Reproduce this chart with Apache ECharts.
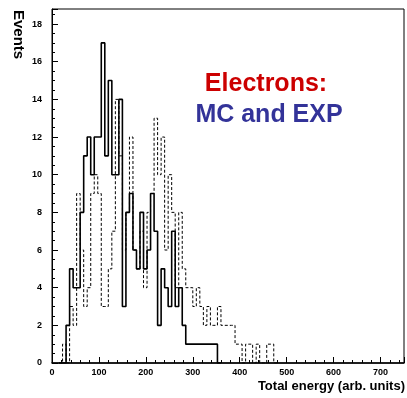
<!DOCTYPE html>
<html><head><meta charset="utf-8">
<script src="https://cdn.jsdelivr.net/npm/echarts@6/dist/echarts.min.js"></script>
<style>html,body{margin:0;padding:0;background:#fff}#c{width:407px;height:398px}</style>
</head><body><div id="c"></div>
<script>
// Histogram bins: lower edge of first bin and bin width (arb. units)
const FIRST_EDGE = 15;
const BIN_WIDTH = 7.5;
// Solid histogram counts per bin
const solidCounts = [0,0,2,5,4,4,8,11,12,10,12,12,17,11,15,10,10,14,3,8,9,6,5,8,5,6,9,7,2,5,4,3,7,3,4,2,1,1,1,1,1,1,1,1,1,0];
// Dashed histogram counts per bin
const dashedCounts = [0,1,0,3,2,9,6,3,4,9,10,9,3,3,5,7,14,11,6,8,12,6,5,7,4,8,9,13,10,12,6,10,8,4,8,5,4,4,3,4,3,2,3,2,2,3,2,2,2,2,1,1,0,1,1,0,1,0,0,1,1,0];
const xTicks = [0,100,200,300,400,500,600,700];
const yTicks = [0,2,4,6,8,10,12,14,16,18];

function stepPoints(counts){
  const pts = [[FIRST_EDGE,0]];
  counts.forEach((c,i)=>pts.push([FIRST_EDGE+i*BIN_WIDTH,c]));
  pts.push([FIRST_EDGE+counts.length*BIN_WIDTH,0]);
  return pts;
}
const chart = echarts.init(document.getElementById('c'));
const lab = {fontFamily:'Liberation Sans, Arial, sans-serif',fontWeight:'bold',fontSize:9,color:'#000'};
chart.setOption({
  animation:false,
  grid:{left:52,right:2,top:9,bottom:35,show:true,borderColor:'#000',borderWidth:1},
  xAxis:{type:'value',min:0,max:750,interval:100,
    axisLine:{lineStyle:{color:'#000',width:1.5}},
    axisTick:{inside:true,length:6,lineStyle:{color:'#000'}},
    minorTick:{show:true,splitNumber:5,length:3,lineStyle:{color:'#000'}},
    splitLine:{show:false},
    axisLabel:Object.assign({margin:5,formatter:v=>xTicks.includes(v)?String(v):''},lab)},
  yAxis:{type:'value',min:0,max:18.8,interval:2,
    axisLine:{show:true,lineStyle:{color:'#000',width:1}},
    axisTick:{show:true,inside:true,length:6,lineStyle:{color:'#000'}},
    minorTick:{show:true,splitNumber:4,length:3,lineStyle:{color:'#000'}},
    splitLine:{show:false},
    axisLabel:Object.assign({margin:10,formatter:v=>yTicks.includes(v)?String(v):''},lab)},
  series:[
    {type:'line',step:'end',symbol:'none',data:stepPoints(dashedCounts),
     lineStyle:{color:'#000',width:1,type:[3,2]}},
    {type:'line',step:'end',symbol:'none',data:stepPoints(solidCounts),
     lineStyle:{color:'#000',width:1.6}}
  ],
  graphic:[
    {type:'text',x:266,y:97,style:{text:'Electrons:',fill:'#cc0000',font:'bold 25px Liberation Sans, Arial, sans-serif',textAlign:'center',textVerticalAlign:'bottom'}},
    {type:'text',x:269,y:128,style:{text:'MC and EXP',fill:'#333399',font:'bold 25px Liberation Sans, Arial, sans-serif',textAlign:'center',textVerticalAlign:'bottom'}},
    {type:'text',x:405,y:393,style:{text:'Total energy (arb. units)',fill:'#000',font:'bold 13px Liberation Sans, Arial, sans-serif',textAlign:'right',textVerticalAlign:'bottom'}},
    {type:'text',x:18,y:10,rotation:-Math.PI/2,style:{text:'Events',fill:'#000',font:'bold 15px Liberation Sans, Arial, sans-serif',textAlign:'left',textVerticalAlign:'middle'}}
  ]
});
</script></body></html>
